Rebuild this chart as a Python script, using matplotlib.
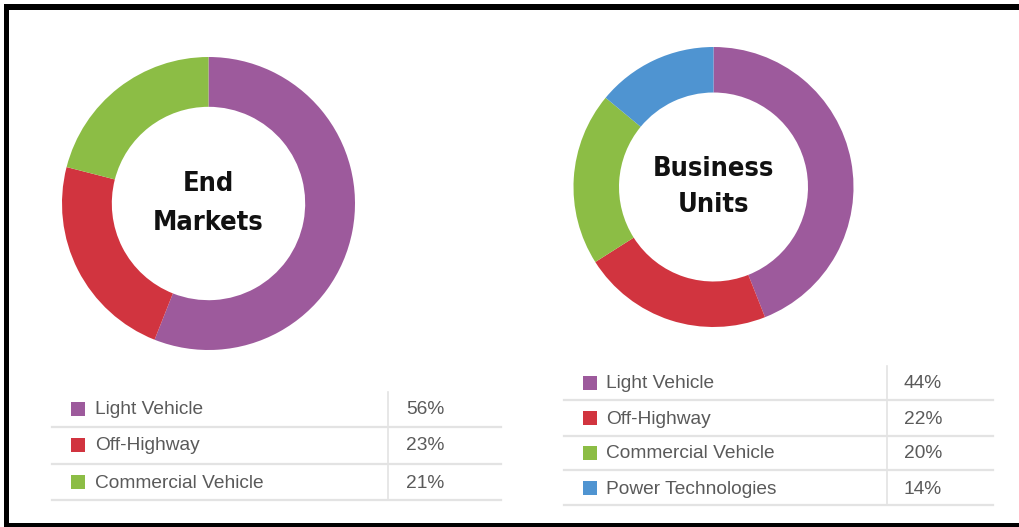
import matplotlib
matplotlib.use("Agg")
import matplotlib.pyplot as plt
from matplotlib.patches import Rectangle

# data
end_labels = ["Light Vehicle", "Off-Highway", "Commercial Vehicle"]
end_values = [56, 23, 21]
unit_labels = ["Light Vehicle", "Off-Highway", "Commercial Vehicle", "Power Technologies"]
unit_values = [44, 22, 20, 14]
colors = ["#9d5a9c", "#d1343f", "#8cbd45", "#4f94d1"]

W, H = 1019, 527
fig = plt.figure(figsize=(W / 100, H / 100), dpi=100)

body_font = ["Liberation Sans", "DejaVu Sans"]


def donut(cx, cy, r, hole, values, lines):
    ax = fig.add_axes([(cx - r) / W, 1 - (cy + r) / H, 2 * r / W, 2 * r / H])
    ax.pie(values, colors=colors[:len(values)], startangle=90, counterclock=False,
           wedgeprops=dict(width=1 - hole, linewidth=0))
    ax.set_xlim(-1, 1)
    ax.set_ylim(-1, 1)
    ax.set_aspect("equal")
    ax.axis("off")
    for txt, dy in zip(lines, [-0.13, 0.13]):
        ax.text(0, -dy, txt, ha="center", va="center", fontsize=19.5,
                fontweight="bold", fontstretch="condensed", family="DejaVu Sans",
                color="#111111")


donut(208.5, 203.5, 146.5, 0.66, end_values, ["End", "Markets"])
donut(713.5, 187, 140, 0.675, unit_values, ["Business", "Units"])

# overlay in pixel coords for tables and frame
ov = fig.add_axes([0, 0, 1, 1])
ov.set_xlim(0, W)
ov.set_ylim(H, 0)
ov.axis("off")


def table(labels, values, x0, x1, xdiv, top, row_y, line_y, sq_x, txt_x, pct_x):
    for lab, val, y, c in zip(labels, values, row_y, colors):
        ov.add_patch(Rectangle((sq_x - 7, y - 7), 14, 14, color=c, lw=0))
        ov.text(txt_x, y + 1, lab, ha="left", va="center", fontsize=13.8,
                family=body_font, color="#5a5a5a")
        ov.text(pct_x, y + 1, f"{val}%", ha="left", va="center", fontsize=13.8,
                family=body_font, color="#5a5a5a")
    for y in line_y:
        ov.plot([x0, x1], [y, y], color="#e3e3e3", lw=1.6)
    ov.plot([xdiv, xdiv], [top, line_y[-1]], color="#e3e3e3", lw=1.2)


table(end_labels, end_values, 52, 501, 388, 392,
      [409, 445, 482], [427, 464, 500], 78, 95, 406)
table(unit_labels, unit_values, 564, 993, 887, 366,
      [383, 418, 453, 488], [400, 436, 470, 505], 590, 606, 904)

# black frame (top, left, bottom)
ov.add_patch(Rectangle((4, 4), W - 4, 6, color="black", lw=0))
ov.add_patch(Rectangle((4, 4), 5, H - 4, color="black", lw=0))
ov.add_patch(Rectangle((4, 522.5), W - 4, 5, color="black", lw=0))

fig.savefig("out.png", dpi=100)
